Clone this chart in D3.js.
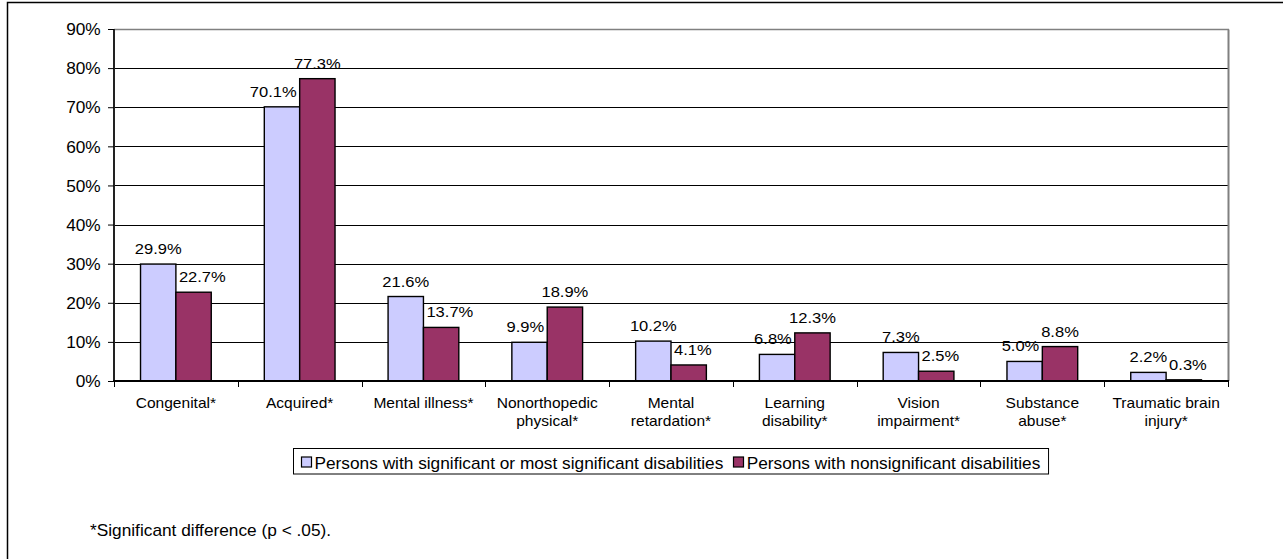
<!DOCTYPE html>
<html>
<head>
<meta charset="utf-8">
<script src="https://cdn.jsdelivr.net/npm/d3@7/dist/d3.min.js"></script>
<style>
  html, body { margin: 0; padding: 0; background: #fff; }
  svg { display: block; }
  text { font-family: Arial, "Liberation Sans", sans-serif; fill: #000; }
</style>
</head>
<body>
<script>
// ---------- data ----------
const categories = ["Congenital*", "Acquired*", "Mental illness*", "Nonorthopedic\nphysical*",
  "Mental\nretardation*", "Learning\ndisability*", "Vision\nimpairment*", "Substance\nabuse*",
  "Traumatic brain\ninjury*"];
const seriesNames = ["Persons with significant or most significant disabilities",
  "Persons with nonsignificant disabilities"];
const significantValues = [29.9, 70.1, 21.6, 9.9, 10.2, 6.8, 7.3, 5.0, 2.2];
const nonsignificantValues = [22.7, 77.3, 13.7, 18.9, 4.1, 12.3, 2.5, 8.8, 0.3];
const yTickValues = [0, 10, 20, 30, 40, 50, 60, 70, 80, 90];
const footnote = "*Significant difference (p < .05).";

// ---------- styles ----------
const W = 1283, H = 559;
const colors = ["#CCCCFF", "#993366"];
const SX = 1.08; // horizontal text stretch of the original rendering
const plot = { left: 114, right: 1228, top: 29, bottom: 381 };

const svg = d3.select("body").append("svg").attr("width", W).attr("height", H);

// outer chart border (extends past the window on right/bottom)
svg.append("rect").attr("x", 7.5).attr("y", 2.5).attr("width", 1400).attr("height", 800)
  .attr("fill", "none").attr("stroke", "#000").attr("stroke-width", 1.5);

// ---------- scales ----------
const x = d3.scaleBand().domain(categories).range([plot.left, plot.right]).paddingInner(0).paddingOuter(0);
const xs = d3.scaleBand().domain([0, 1]).range([0, x.bandwidth()]).paddingInner(0).paddingOuter(0.75);
const y = d3.scaleLinear().domain([0, 90]).range([plot.bottom, plot.top]);
const ry = v => Math.round(y(v)) + 0.5;

// gridlines
svg.append("g").selectAll("line").data(yTickValues.filter(v => v > 0 && v < 90)).join("line")
  .attr("x1", plot.left).attr("x2", plot.right)
  .attr("y1", ry).attr("y2", ry)
  .attr("stroke", "#000").attr("stroke-width", 1);

// plot-area border top and right (gray)
svg.append("line").attr("x1", plot.left).attr("x2", plot.right + 1)
  .attr("y1", ry(90)).attr("y2", ry(90)).attr("stroke", "#808080").attr("stroke-width", 1.5);
svg.append("line").attr("x1", plot.right + 0.5).attr("x2", plot.right + 0.5)
  .attr("y1", ry(90)).attr("y2", plot.bottom).attr("stroke", "#808080").attr("stroke-width", 2);

// ---------- bars ----------
const data = categories.map((c, i) => ({ c, vals: [significantValues[i], nonsignificantValues[i]] }));
const groups = svg.append("g").selectAll("g").data(data).join("g")
  .attr("transform", d => `translate(${x(d.c)},0)`);
groups.selectAll("rect").data(d => d.vals.map((v, k) => ({ v, k }))).join("rect")
  .attr("x", d => xs(d.k))
  .attr("y", d => y(d.v))
  .attr("width", xs.bandwidth())
  .attr("height", d => plot.bottom - y(d.v))
  .attr("fill", d => colors[d.k])
  .attr("stroke", "#000").attr("stroke-width", 1.4);

// ---------- y axis ----------
const yAxis = d3.axisLeft(y).tickValues(yTickValues).tickSize(6).tickFormat(d => d + "%");
const gy = svg.append("g").attr("transform", `translate(${plot.left},0)`).call(yAxis);
gy.select(".domain").attr("stroke", "#222").attr("stroke-width", 2)
  .attr("d", `M0,${plot.top}V${plot.bottom}`);
gy.selectAll(".tick line").attr("stroke", "#000").attr("stroke-width", 1);
gy.selectAll(".tick text")
  .attr("font-size", 16).attr("font-family", 'Arial, "Liberation Sans", sans-serif')
  .attr("x", -13.3 / SX).attr("dy", "0.36em")
  .attr("transform", `scale(${SX},1)`);

// ---------- x axis ----------
const xAxis = d3.axisBottom(x).tickSize(0).tickFormat("");
const gx = svg.append("g").attr("transform", `translate(0,${plot.bottom})`).call(xAxis);
gx.select(".domain").remove();
gx.selectAll(".tick text").remove();
gx.selectAll(".tick").each(function (d) {
  const lines = d.split("\n");
  const t = d3.select(this).append("text")
    .attr("text-anchor", "middle").attr("font-size", 14.4)
    .attr("transform", `scale(${SX},1)`);
  lines.forEach((ln, j) => t.append("tspan").attr("x", 0).attr("y", 27 + j * 18).text(ln));
});
// axis baseline
svg.append("line").attr("x1", plot.left - 1).attr("x2", plot.right + 1)
  .attr("y1", plot.bottom).attr("y2", plot.bottom).attr("stroke", "#000").attr("stroke-width", 2);
// boundary tick marks
const bounds = categories.map(c => x(c)).concat([x(categories[categories.length - 1]) + x.bandwidth()]);
svg.append("g").selectAll("line").data(bounds).join("line")
  .attr("x1", d => Math.round(d) + 0.5).attr("x2", d => Math.round(d) + 0.5)
  .attr("y1", plot.bottom).attr("y2", plot.bottom + 6)
  .attr("stroke", "#000").attr("stroke-width", 1);

// ---------- value labels ----------
const labelLayer = svg.append("g");
data.forEach(d => {
  const gx0 = x(d.c), bw = xs.bandwidth();
  const rects = d.vals.map((v, k) => ({ x0: gx0 + xs(k), x1: gx0 + xs(k) + bw, top: y(v), bottom: plot.bottom }));
  const labs = d.vals.map((v, k) => {
    const t = labelLayer.append("text").attr("font-size", 15.3).attr("text-anchor", "start")
      .text(v.toFixed(1) + "%");
    const w = t.node().getComputedTextLength() * SX;
    const cx = (rects[k].x0 + rects[k].x1) / 2;
    const base = y(v) - 10;
    return { t, w, left: cx - w / 2, base, top: base - 11, bot: base + 3 };
  });
  const hit = (l, r) => l.left < r.x1 && l.left + l.w > r.x0 && l.bot > r.top && l.top < r.bottom;
  const gap = 3;
  if (hit(labs[0], rects[1])) labs[0].left = rects[1].x0 - gap - labs[0].w;
  if (hit(labs[1], rects[0])) labs[1].left = rects[0].x1 + gap;
  const a = labs[0], b = labs[1];
  if (a.left < b.left + b.w && a.left + a.w > b.left && a.bot > b.top && a.top < b.bot) {
    const ov = a.left + a.w - b.left + gap;
    a.left -= ov / 2; b.left += ov / 2;
  }
  labs.forEach(l => l.t.attr("transform", `translate(${l.left},${l.base}) scale(${SX},1)`));
});

// ---------- legend ----------
const leg = svg.append("g");
const legY = 448.5, legH = 25.5;
const items = seriesNames.map((name, k) => {
  const t = leg.append("text").attr("font-size", 16).text(name);
  return { t, w: t.node().getComputedTextLength() * SX, k };
});
const pad = 7, sw = 10, sg = 4, ig = 9;
const totalW = pad + items.reduce((s, it, i) => s + sw + sg + it.w + (i < items.length - 1 ? ig : 0), 0) + 8;
const legX = Math.round((plot.left + plot.right) / 2 - totalW / 2) + 0.5;
leg.insert("rect", ":first-child").attr("x", legX).attr("y", legY).attr("width", totalW).attr("height", legH)
  .attr("fill", "#fff").attr("stroke", "#000").attr("stroke-width", 1);
let cx = legX + pad;
items.forEach((it, i) => {
  leg.append("rect").attr("x", Math.round(cx) + 0.5).attr("y", legY + 8.5).attr("width", sw).attr("height", sw)
    .attr("fill", colors[it.k]).attr("stroke", "#000").attr("stroke-width", 1.2);
  cx += sw + sg;
  it.t.attr("transform", `translate(${cx},${legY + 20}) scale(${SX},1)`);
  cx += it.w + ig;
});

// ---------- footnote ----------
svg.append("text").attr("font-size", 16)
  .attr("transform", `translate(90,536) scale(${SX},1)`).text(footnote);
</script>
</body>
</html>
